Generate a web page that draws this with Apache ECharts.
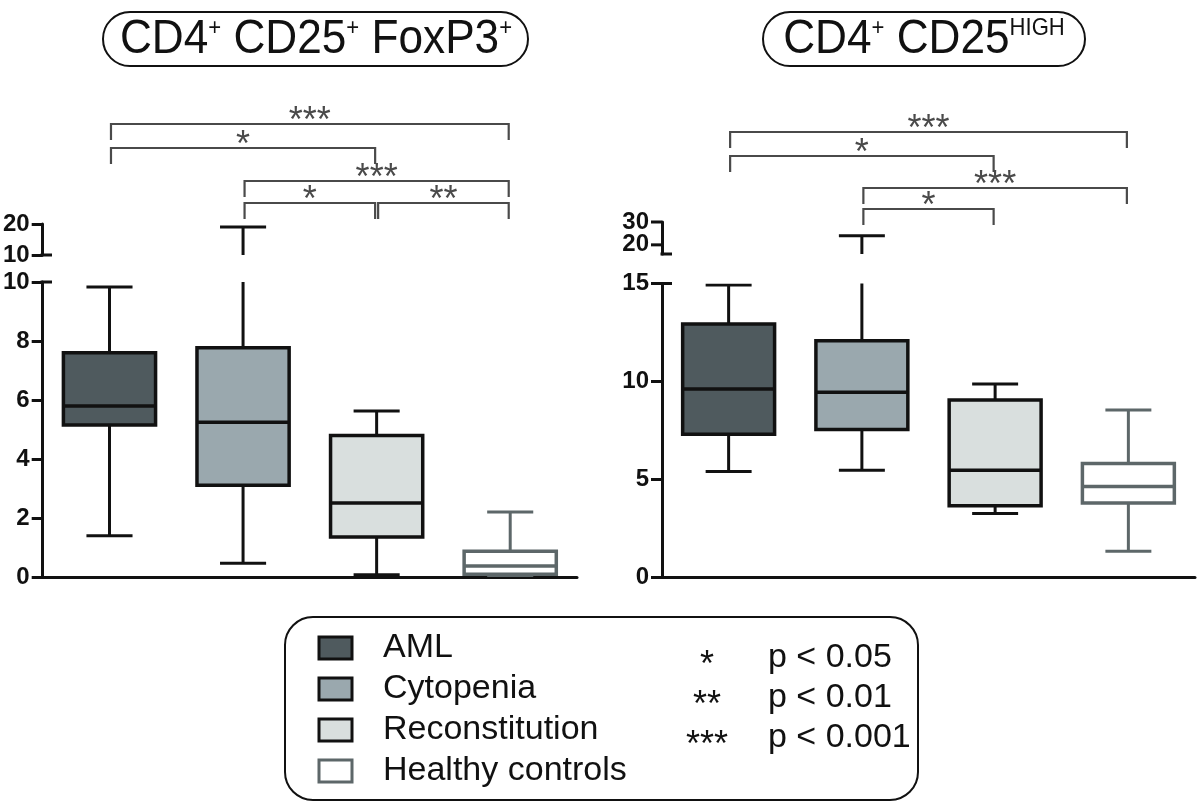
<!DOCTYPE html>
<html>
<head>
<meta charset="utf-8">
<title>Treg boxplots</title>
<script src="https://cdn.jsdelivr.net/npm/echarts@6/dist/echarts.min.js"></script>
<style>
  html, body { margin: 0; background: #fff; }
  #main { width: 1200px; height: 805px; }
</style>
</head>
<body>
<div id="main"></div>
<script>
// groups and box statistics: [low whisker, Q1, median, Q3, high whisker]
const groups = ['AML', 'Cytopenia', 'Reconstitution', 'Healthy controls'];
const foxp3Stats = [
  [1.4, 5.15, 5.8, 7.6, 9.83],
  [0.47, 3.11, 5.25, 7.77, 19.0],
  [0.08, 1.36, 2.51, 4.8, 5.63],
  [0.02, 0.09, 0.37, 0.87, 2.2]
];
const highStats = [
  [5.39, 7.29, 9.61, 12.93, 14.92],
  [5.46, 7.54, 9.44, 12.07, 24.0],
  [3.25, 3.64, 5.46, 9.05, 9.86],
  [1.31, 3.78, 4.63, 5.8, 8.54]
];
// axis ranges (lower segment, upper segment after the break)
const foxp3Lower = [0, 10, 2];
const foxp3Upper = [10, 20, 10];
const highLower = [0, 15, 5];
const highUpper = [16, 30];
const highUpperTicks = [20, 30];
// significance brackets: [from group, to group, stars, stacking level]
const foxp3Brackets = [[0, 3, '***', 0], [0, 2, '*', 1], [1, 3, '***', 2], [1, 2, '*', 3], [2, 3, '**', 3]];
const highBrackets = [[0, 3, '***', 0], [0, 2, '*', 1], [1, 3, '***', 2], [1, 2, '*', 3]];
const pLevels = [['*', 'p < 0.05'], ['**', 'p < 0.01'], ['***', 'p < 0.001']];

const fills = ['#4f5a5e', '#9aa8ae', '#d9dfde', '#ffffff'];
const strokes = ['#111111', '#111111', '#111111', '#5d6769'];
const FONT = '"Liberation Sans", Arial, sans-serif';

const chart = echarts.init(document.getElementById('main'));

// one boxplot drawn by hand so it can be clipped at the axis break
function renderBox(params, api) {
  const i = api.value(0);
  const [lo, q1, med, q3, hi] = [1, 2, 3, 4, 5].map(k => api.value(k));
  const cs = params.coordSys;
  const x = api.coord([i, 0])[0];
  const y = v => api.coord([i, v])[1];
  const bw = api.size([1, 0])[0] * 0.69;
  const cw = bw * 0.5;
  const inside = py => py >= cs.y - 0.5 && py <= cs.y + cs.height;
  const line = { stroke: strokes[i], lineWidth: 3, fill: null };
  const kids = [
    { type: 'line', shape: { x1: x, y1: y(q3), x2: x, y2: y(hi) }, style: line },
    { type: 'line', shape: { x1: x, y1: y(q1), x2: x, y2: y(lo) }, style: line }
  ];
  if (inside(y(hi))) kids.push({ type: 'line', shape: { x1: x - cw / 2, y1: y(hi), x2: x + cw / 2, y2: y(hi) }, style: line });
  if (inside(y(lo))) kids.push({ type: 'line', shape: { x1: x - cw / 2, y1: y(lo), x2: x + cw / 2, y2: y(lo) }, style: line });
  kids.push({
    type: 'rect',
    shape: { x: x - bw / 2, y: y(q3), width: bw, height: y(q1) - y(q3) },
    style: { fill: fills[i], stroke: strokes[i], lineWidth: 3.5 }
  });
  kids.push({ type: 'line', shape: { x1: x - bw / 2, y1: y(med), x2: x + bw / 2, y2: y(med) }, style: { stroke: strokes[i], lineWidth: 3.5 } });
  return { type: 'group', children: kids };
}

const toData = stats => stats.map((s, i) => [i].concat(s));

const axisCommon = {
  axisLine: { show: true, lineStyle: { color: '#111', width: 3 } },
  axisTick: { show: true, length: 11, lineStyle: { color: '#111', width: 3 } },
  axisLabel: { color: '#111', fontSize: 24, fontWeight: 'bold', fontFamily: FONT, margin: 13, lineHeight: 16 },
  splitLine: { show: false }
};

const grids = [
  { left: 42, top: 282, width: 535, height: 295 },
  { left: 42, top: 224, width: 535, height: 31 },
  { left: 662, top: 283.5, width: 533, height: 293.5 },
  { left: 662, top: 222, width: 533, height: 32 }
];

const xAxes = grids.map((g, k) => ({
  type: 'category', gridIndex: k, data: groups, show: k % 2 === 0,
  axisLine: { lineStyle: { color: '#111', width: 3 } },
  axisTick: { alignWithLabel: true, length: 12, lineStyle: { color: '#111', width: 3 } },
  axisLabel: { show: false }
}));

const yAxes = [
  Object.assign({}, axisCommon, { type: 'value', gridIndex: 0, min: foxp3Lower[0], max: foxp3Lower[1], interval: foxp3Lower[2] }),
  Object.assign({}, axisCommon, { type: 'value', gridIndex: 1, min: foxp3Upper[0], max: foxp3Upper[1], interval: foxp3Upper[2] }),
  Object.assign({}, axisCommon, { type: 'value', gridIndex: 2, min: highLower[0], max: highLower[1], interval: highLower[2] }),
  // ticks of this short segment are added below from highUpperTicks
  Object.assign({}, axisCommon, {
    type: 'value', gridIndex: 3, min: highUpper[0], max: highUpper[1],
    axisTick: { show: false }, axisLabel: { show: false }
  })
];

const series = [foxp3Stats, foxp3Stats, highStats, highStats].map((st, k) => ({
  type: 'custom', xAxisIndex: k, yAxisIndex: k, clip: true,
  renderItem: renderBox, data: toData(st), silent: true
}));

chart.setOption({
  animation: false,
  grid: grids,
  xAxis: xAxes,
  yAxis: yAxes,
  series: series
});

// decorations: break caps, brackets, titles, legend
const graphics = [];
const gray = '#4a4a4a';

function breakCap(grid, yPix) {
  graphics.push({ type: 'line', shape: { x1: grid.left - 1.5, y1: yPix, x2: grid.left + 10, y2: yPix }, style: { stroke: '#111', lineWidth: 3 } });
}
breakCap(grids[0], grids[0].top);
breakCap(grids[1], grids[1].top + grids[1].height);
breakCap(grids[2], grids[2].top);
breakCap(grids[3], grids[3].top + grids[3].height);

highUpperTicks.forEach(v => {
  const py = chart.convertToPixel({ yAxisIndex: 3 }, v);
  const ax = grids[3].left;
  graphics.push({ type: 'line', shape: { x1: ax - 11, y1: py, x2: ax, y2: py }, style: { stroke: '#111', lineWidth: 3 } });
  graphics.push({
    type: 'text', x: ax - 13, y: py,
    style: { text: String(v), fill: '#111', font: 'bold 24px ' + FONT, align: 'right', verticalAlign: 'middle' }
  });
});

function brackets(list, xAxisIndex, levelY) {
  list.forEach(([a, b, stars, lvl]) => {
    const x1 = chart.convertToPixel({ xAxisIndex }, a) + 1.5;
    const x2 = chart.convertToPixel({ xAxisIndex }, b) - 1.5;
    const y0 = levelY[lvl];
    graphics.push({
      type: 'polyline',
      shape: { points: [[x1, y0 + 16], [x1, y0], [x2, y0], [x2, y0 + 16]] },
      style: { stroke: gray, lineWidth: 2.2, fill: null }
    });
    graphics.push({
      type: 'text', x: (x1 + x2) / 2, y: y0 - 2,
      style: { text: stars, fill: gray, font: '36px ' + FONT, align: 'center', verticalAlign: 'middle' }
    });
  });
}
brackets(foxp3Brackets, 0, [124, 148, 181, 203]);
brackets(highBrackets, 2, [132, 156, 188, 209]);

function title(cx, left, right, parts) {
  graphics.push({
    type: 'rect', shape: { x: left, y: 12, width: right - left, height: 54, r: 27 },
    style: { fill: '#fff', stroke: '#111', lineWidth: 2 }
  });
  graphics.push({
    type: 'text', x: cx, y: 40, scaleX: 0.92,
    style: {
      text: parts.map(p => '{' + p[0] + '|' + p[1] + '}').join(''),
      align: 'center', verticalAlign: 'middle',
      rich: {
        m: { fontSize: 48, fontFamily: FONT, fill: '#111', lineHeight: 48 },
        s: { fontSize: 24, fontFamily: FONT, fill: '#111', lineHeight: 24, verticalAlign: 'top' }
      }
    }
  });
}
title(316, 103, 528, [['m', 'CD4'], ['s', '+'], ['m', ' CD25'], ['s', '+'], ['m', ' FoxP3'], ['s', '+']]);
title(924, 763, 1085, [['m', 'CD4'], ['s', '+'], ['m', ' CD25'], ['s', 'HIGH']]);

// legend panel
graphics.push({
  type: 'rect', shape: { x: 285, y: 617, width: 633, height: 183, r: 28 },
  style: { fill: '#fff', stroke: '#111', lineWidth: 2 }
});
groups.forEach((g, i) => {
  const cy = 648 + i * 41;
  graphics.push({
    type: 'rect', shape: { x: 319, y: cy - 11, width: 33, height: 22 },
    style: { fill: fills[i], stroke: strokes[i], lineWidth: 3 }
  });
  graphics.push({
    type: 'text', x: 383, y: cy,
    style: { text: g, fill: '#111', font: '34px ' + FONT, align: 'left', verticalAlign: 'middle' }
  });
});
pLevels.forEach(([stars, label], i) => {
  const cy = 658 + i * 40;
  graphics.push({
    type: 'text', x: 707, y: cy + 8,
    style: { text: stars, fill: '#111', font: '36px ' + FONT, align: 'center', verticalAlign: 'middle' }
  });
  graphics.push({
    type: 'text', x: 768, y: cy,
    style: { text: label, fill: '#111', font: '34px ' + FONT, align: 'left', verticalAlign: 'middle' }
  });
});

chart.setOption({ graphic: { elements: graphics } });
</script>
</body>
</html>
